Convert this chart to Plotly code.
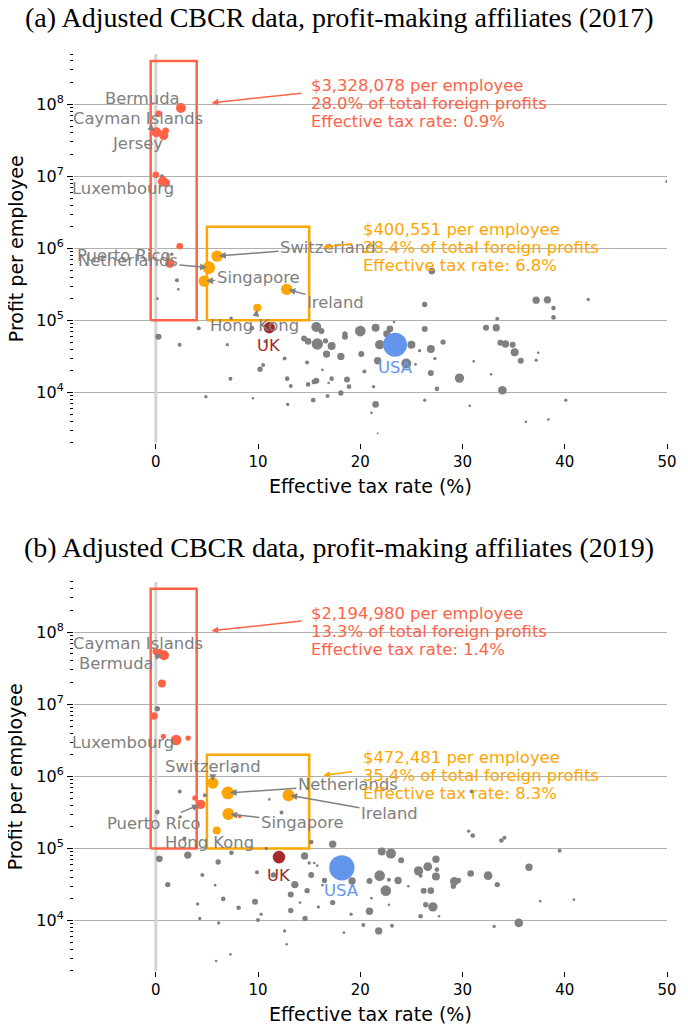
import math
import plotly.graph_objects as go

# ================= DATA =================
# ---- 2017 ----
gray17_x = [27.0, 26.3, 37.2, 38.3, 38.9, 38.9, 42.3, 33.4, 32.3, 33.3, 23.3, 26.3, 28.1, 26.9, 25.8,
            27.3, 25.4, 25.0, 24.5, 26.9, 29.7, 27.5, 26.3, 30.7, 31.1, 32.8, 33.9, 33.7, 34.2, 34.9,
            35.1, 35.7, 37.2, 37.4, 36.2, 38.4, 40.1, 21.5, 20.0, 22.9, 22.6, 21.9, 21.7, 20.1, 20.4,
            21.3, 21.5, 21.1, 21.7, 18.5, 18.5, 18.1, 18.7, 18.9, 18.1, 16.8, 15.4, 15.7, 16.2, 15.8,
            16.6, 17.2, 16.7, 14.9, 14.5, 14.8, 16.3, 17.2, 16.9, 15.7, 15.5, 14.9, 12.85, 13.2, 12.9,
            12.6, 10.5, 10.2, 9.5, 10.7, 9.4, 50.0, 1.56, 2.07, 2.2, 0.16, 4.9, 7.37, 4.2, 0.26,
            2.33, 7.0, 7.3, 4.9, 0.6]
gray17_y = [4.84e5, 1.66e5, 1.91e5, 1.93e5, 1.48e5, 1.10e5, 1.95e5, 1.05e5, 7.9e4, 7.9e4, 9.5e4, 7.6e4,
            5.0e4, 4.0e4, 3.8e4, 2.95e4, 2.45e4, 4.57e4, 2.51e4, 1.86e4, 1.58e4, 1.12e4, 7.8e3, 6.5e3,
            2.7e4, 1.78e4, 1.07e4, 4.9e4, 4.7e4, 4.57e4, 3.6e4, 2.75e4, 2.8e4, 3.55e4, 3.9e3, 4.2e3,
            7.8e3, 7.9e4, 7.1e4, 7.6e4, 6.5e4, 4.6e4, 2.75e4, 3.4e4, 1.95e4, 1.2e4, 6.8e3, 5.2e3,
            2.7e3, 5.9e4, 6.5e4, 3.16e4, 1.51e4, 1.2e4, 9.8e3, 8.9e3, 7.8e3, 8.1e4, 7.1e4, 4.7e4,
            5.2e4, 4.4e4, 3.4e4, 5.1e4, 5.6e4, 2.6e4, 2.05e4, 1.55e4, 1.35e4, 1.45e4, 1.41e4, 1.29e4,
            1.55e4, 1.23e4, 6.8e3, 2.95e4, 2.4e4, 2.1e4, 8.3e3, 5.1e4, 7.8e4, 8.5e6, 8.3e5, 3.6e5,
            2.7e5, 2.0e5, 5.2e5, 1.07e5, 7.8e4, 5.9e4, 4.6e4, 4.6e4, 1.55e4, 8.7e3, 1.0e7]
gray17_w = [10, 8, 11, 11, 7, 7, 5, 6, 9, 11, 4, 9, 8, 12, 5,
            5, 4, 12, 15, 9, 14, 7, 5, 4, 4, 4, 13, 9, 11, 9,
            12, 9, 5, 4, 4, 4, 5, 12, 16, 10, 11, 14, 11, 9, 6,
            5, 10, 4, 3, 9, 8, 11, 9, 7, 8, 6, 7, 15, 9, 17,
            8, 12, 11, 10, 9, 6, 4, 7, 4, 9, 8, 7, 7, 6, 5,
            6, 6, 8, 4, 5, 7, 5, 5, 6, 4, 4, 4, 5, 6, 9,
            6, 5, 6, 5, 6]

red17_names = ["Bermuda", "", "Cayman Islands", "Jersey", "", "", "Luxembourg", "", "", "Puerto Rico"]
red17_x = [2.46, 0.27, 0.06, 0.77, 0.96, 0.0, 0.7, 1.0, 2.34, 1.37]
red17_y = [8.9e7, 7.4e7, 4.1e7, 3.7e7, 4.3e7, 1.05e7, 8.5e6, 8.1e6, 1.07e6, 6.2e5]
red17_w = [15, 10, 15, 14, 10, 10, 15, 12, 10, 14]

orange17_names = ["Netherlands", "Switzerland", "Singapore", "Ireland", "Hong Kong"]
orange17_x = [5.19, 5.99, 4.74, 12.8, 9.93]
orange17_y = [5.4e5, 7.8e5, 3.5e5, 2.7e5, 1.5e5]
orange17_w = [19, 17, 17, 17, 12]

uk17 = (11.1, 7.9e4, 17)
usa17 = (23.4, 4.6e4, 36)

summary17_red = ["$3,328,078 per employee", "28.0% of total foreign profits", "Effective tax rate: 0.9%"]
summary17_orange = ["$400,551 per employee", "28.4% of total foreign profits", "Effective tax rate: 6.8%"]

# ---- 2019 ----
gray19_x = [0.15, 7.7, 2.34, 11.1, 4.8, 12.3, 0.15, 2.4, 2.8, 7.4, 10.8, 3.13, 0.35, 14.55, 15.0,
            15.5, 15.8, 15.2, 17.3, 6.1, 4.55, 9.9, 11.5, 13.6, 15.2, 16.5, 16.3, 14.8, 13.2, 1.17,
            5.8, 6.6, 9.7, 8.1, 10.3, 10.0, 14.1, 13.2, 14.6, 15.9, 17.3, 4.1, 4.3, 6.15, 12.6,
            12.8, 7.3, 5.9, 18.4, 19.2, 19.1, 20.3, 30.9, 30.6, 31.0, 33.8, 34.1, 39.5, 22.1, 23.0,
            24.0, 27.4, 27.5, 26.6, 25.7, 25.9, 27.4, 21.9, 22.8, 23.7, 20.9, 22.5, 21.1, 22.8, 20.9,
            24.7, 26.2, 26.9, 26.4, 27.1, 25.9, 27.7, 29.2, 29.6, 29.1, 30.8, 32.5, 33.4, 36.5, 37.6,
            40.9, 33.1, 35.5, 21.8, 23.1]
gray19_y = [8.7e6, 1.17e6, 6.2e5, 4.8e5, 5.5e5, 3.16e5, 3.2e5, 2.75e5, 1.38e5, 8.7e4, 1.0e5, 8.1e4,
            7.2e4, 7.9e4, 6.3e4, 6.3e4, 5.8e4, 1.23e5, 1.15e5, 6.5e4, 4.3e4, 4.7e4, 4.3e4, 3.16e4,
            4.3e4, 3.6e4, 3.1e4, 2.6e4, 2.3e4, 3.16e4, 3.1e4, 2.0e4, 1.82e4, 1.51e4, 1.23e4, 1.02e4,
            1.78e4, 1.38e4, 1.07e4, 1.55e4, 1.78e4, 1.7e4, 1.07e4, 9.3e3, 7.2e3, 4.7e3, 3.4e3, 2.75e3,
            6.8e3, 3.55e4, 1.23e4, 8.7e3, 6.2e5, 1.74e5, 1.51e5, 1.29e5, 1.41e5, 9.3e4, 9.1e4, 8.5e4,
            6.9e4, 7.1e4, 5.1e4, 5.6e4, 4.9e4, 4.2e4, 4.1e4, 4.2e4, 3.7e4, 3.6e4, 3.55e4, 2.6e4,
            2.05e4, 1.66e4, 1.35e4, 3.0e4, 2.6e4, 2.6e4, 1.66e4, 1.55e4, 1.15e4, 1.15e4, 3.5e4, 3.6e4,
            3.0e4, 4.5e4, 4.2e4, 3.16e4, 5.5e4, 1.86e4, 1.95e4, 8.3e3, 9.3e3, 7.2e3, 8.5e3]
gray19_w = [8, 5, 6, 4, 6, 6, 7, 5, 6, 7, 5, 11, 10, 11, 5,
            4, 4, 7, 11, 8, 6, 6, 8, 11, 9, 8, 4, 8, 9, 8,
            4, 7, 9, 7, 5, 6, 4, 8, 8, 5, 8, 5, 5, 5, 5,
            4, 4, 4, 4, 11, 5, 6, 6, 5, 7, 7, 6, 6, 12, 15,
            9, 11, 7, 13, 14, 6, 12, 16, 6, 11, 9, 16, 4, 4, 11,
            4, 9, 10, 8, 14, 7, 4, 13, 8, 8, 10, 13, 8, 11, 4,
            4, 5, 13, 11, 6]

red19_names = ["Cayman Islands", "Bermuda", "", "", "", "", "Luxembourg", "", "Puerto Rico", "", ""]
red19_x = [0.32, 0.8, 0.0, 0.6, -0.17, 0.74, 1.98, 3.16, 4.39, 3.83, 8.2]
red19_y = [5.1e7, 4.8e7, 5.4e7, 1.95e7, 6.9e6, 3.6e6, 3.2e6, 3.4e6, 4.1e5, 5.0e5, 2.8e5]
red19_w = [14, 15, 10, 12, 11, 8, 16, 8, 14, 8, 6]

orange19_names = ["Switzerland", "Netherlands", "Ireland", "Singapore", "Hong Kong"]
orange19_x = [5.58, 7.05, 12.98, 7.1, 5.96]
orange19_y = [8.1e5, 5.9e5, 5.5e5, 3.0e5, 1.78e5]
orange19_w = [17, 19, 18, 18, 12]

uk19 = (12.05, 7.6e4, 19)
usa19 = (18.2, 5.4e4, 38)

summary19_red = ["$2,194,980 per employee", "13.3% of total foreign profits", "Effective tax rate: 1.4%"]
summary19_orange = ["$472,481 per employee", "35.4% of total foreign profits", "Effective tax rate: 8.3%"]

titles = ["(a) Adjusted CBCR data, profit-making affiliates (2017)",
          "(b) Adjusted CBCR data, profit-making affiliates (2019)"]

# thresholds of the highlighted zones
red_zone = dict(x0=-0.5, x1=4.0, y0=1e5, y1=4e8)
orange_zone = dict(x0=5.0, x1=15.0, y0=1e5, y1=2e6)

# axis limits
x_range = [-8, 50]
y_limits = [2e3, 5e8]

# ================= STYLE =================
RED = "#FF6347"
ORANGE = "#FFA500"
UKC = "#A52A2A"
USAC = "#6495ED"
GRAY = "#808080"
FONT = "DejaVu Sans"
FS = 16.4
SIZEREF = 1.5

# label offsets (pixels, text centre relative to point)
offsets17 = {"Bermuda": (-38, -9), "Cayman Islands": (-18, -14), "Jersey": (-26, 8),
             "Luxembourg": (-40, 7), "Puerto Rico": (-46, -8), "Netherlands": (-81, -7),
             "Switzerland": (111, -9), "Singapore": (54, -4), "Ireland": (49, 13),
             "Hong Kong": (-3, 18)}
offsets19 = {"Cayman Islands": (-21, -10), "Bermuda": (-47, 8), "Luxembourg": (-53, 3),
             "Switzerland": (0, -17), "Netherlands": (120, -8), "Ireland": (101, 18),
             "Singapore": (74, 8), "Puerto Rico": (-47, 19), "Hong Kong": (-7, 12)}

fig = go.Figure()
annotations = []

panels = [
    dict(xa="x", ya="y", gray=(gray17_x, gray17_y, gray17_w),
         red=(red17_names, red17_x, red17_y, red17_w),
         orange=(orange17_names, orange17_x, orange17_y, orange17_w),
         uk=uk17, usa=usa17, sred=summary17_red, sorange=summary17_orange, off=offsets17,
         title=titles[0], title_y=1.0393),
    dict(xa="x2", ya="y2", gray=(gray19_x, gray19_y, gray19_w),
         red=(red19_names, red19_x, red19_y, red19_w),
         orange=(orange19_names, orange19_x, orange19_y, orange19_w),
         uk=uk19, usa=usa19, sred=summary19_red, sorange=summary19_orange, off=offsets19,
         title=titles[1], title_y=0.4613),
]


def mk(x, y, w, color, xa, ya):
    return go.Scatter(x=x, y=y, mode="markers", xaxis=xa, yaxis=ya, showlegend=False,
                      hoverinfo="skip",
                      marker=dict(size=w, sizemode="diameter", sizeref=SIZEREF, color=color,
                                  line=dict(width=0), opacity=1))


def line_trace(x, y, color, width, xa, ya):
    return go.Scatter(x=x, y=y, mode="lines", xaxis=xa, yaxis=ya, showlegend=False,
                      hoverinfo="skip", line=dict(color=color, width=width))


for p in panels:
    xa, ya = p["xa"], p["ya"]
    # vertical zero line
    fig.add_trace(line_trace([0, 0], y_limits, "#d3d3d3", 3, xa, ya))
    # zone boxes
    for zone, col in [(red_zone, RED), (orange_zone, ORANGE)]:
        fig.add_trace(line_trace([zone["x0"], zone["x1"], zone["x1"], zone["x0"], zone["x0"]],
                                 [zone["y0"], zone["y0"], zone["y1"], zone["y1"], zone["y0"]],
                                 col, 2.5, xa, ya))

    gx, gy, gw = p["gray"]
    fig.add_trace(mk(gx, gy, gw, GRAY, xa, ya))
    rn, rx, ry, rw = p["red"]
    fig.add_trace(mk(rx, ry, rw, RED, xa, ya))
    on, ox, oy, ow = p["orange"]
    fig.add_trace(mk(ox, oy, ow, ORANGE, xa, ya))
    fig.add_trace(mk([p["uk"][0]], [p["uk"][1]], [p["uk"][2]], UKC, xa, ya))
    fig.add_trace(mk([p["usa"][0]], [p["usa"][1]], [p["usa"][2]], USAC, xa, ya))

    # country labels with arrows
    for names, xs, ys in [(rn, rx, ry), (on, ox, oy)]:
        for n, xv, yv in zip(names, xs, ys):
            if not n:
                continue
            axp, ayp = p["off"][n]
            annotations.append(dict(x=xv, y=math.log10(yv), xref=xa, yref=ya, text=n,
                                    showarrow=True, ax=axp, ay=ayp, arrowcolor=GRAY,
                                    arrowhead=2, arrowsize=0.9, arrowwidth=1.5, standoff=2,
                                    font=dict(family=FONT, size=FS, color=GRAY)))
    annotations.append(dict(x=p["uk"][0], y=math.log10(p["uk"][1]), xref=xa, yref=ya, text="UK",
                            showarrow=False, yshift=-18, font=dict(family=FONT, size=FS, color=UKC)))
    annotations.append(dict(x=p["usa"][0], y=math.log10(p["usa"][1]), xref=xa, yref=ya, text="USA",
                            showarrow=False, yshift=-23, font=dict(family=FONT, size=FS, color=USAC)))

    # summary texts
    for lines, col, tx, ty in [(p["sred"], RED, 15.03, 8.266), (p["sorange"], ORANGE, 20.03, 6.268)]:
        for i, line in enumerate(lines):
            annotations.append(dict(x=tx, y=ty, xref=xa, yref=ya, text=line, showarrow=False,
                                    xanchor="left", yanchor="middle", yshift=-18.4 * i,
                                    font=dict(family=FONT, size=FS, color=col)))
    # summary arrows
    annotations.append(dict(x=5.45, y=8.02, xref=xa, yref=ya, text=" ", showarrow=True,
                            ax=93, ay=-10, arrowcolor=RED, arrowhead=2, arrowsize=0.9,
                            arrowwidth=1.5))
    annotations.append(dict(x=16.38, y=6.015, xref=xa, yref=ya, text=" ", showarrow=True,
                            ax=32, ay=-4, arrowcolor=ORANGE, arrowhead=2, arrowsize=0.9,
                            arrowwidth=1.5))

    # titles
    annotations.append(dict(x=0.447, y=p["title_y"], xref="paper", yref="paper", text=p["title"],
                            showarrow=False, xanchor="center", yanchor="middle",
                            font=dict(family="Liberation Serif", size=28, color="black")))
    # axis titles
    annotations.append(dict(x=0.5, y=-0.111, xref=xa + " domain", yref=ya + " domain",
                            text="Effective tax rate (%)", showarrow=False,
                            xanchor="center", yanchor="middle",
                            font=dict(family=FONT, size=19, color="black")))
    annotations.append(dict(x=-0.098, y=0.5, xref=xa + " domain", yref=ya + " domain",
                            text="Profit per employee", showarrow=False, textangle=-90,
                            xanchor="center", yanchor="middle",
                            font=dict(family=FONT, size=19, color="black")))

minor_vals = [m * 10 ** e for e in range(3, 9) for m in range(2, 10) if 2e3 <= m * 10 ** e <= 5e8]
major_vals = [1e4, 1e5, 1e6, 1e7, 1e8]
major_text = ["10<sup>4</sup>", "10<sup>5</sup>", "10<sup>6</sup>", "10<sup>7</sup>", "10<sup>8</sup>"]

xaxis_common = dict(range=x_range, tickvals=[0, 10, 20, 30, 40, 50], ticks="outside", ticklen=5,
                    tickwidth=1, tickcolor="black", showgrid=False, zeroline=False, showline=False,
                    tickfont=dict(family=FONT, size=15, color="black"))
yaxis_common = dict(type="log", range=[math.log10(y_limits[0]), math.log10(y_limits[1])],
                    tickvals=major_vals,
                    ticktext=major_text, ticks="outside", ticklen=6, tickwidth=1.3,
                    tickcolor="black", showgrid=True, gridcolor="#b0b0b0", gridwidth=1.3,
                    zeroline=False, showline=False,
                    tickfont=dict(family=FONT, size=16, color="black"),
                    minor=dict(tickvals=minor_vals, ticks="outside", ticklen=3, tickwidth=1,
                               tickcolor="black", showgrid=False))

# the page body has an 8px margin: the figure is shrunk by that much so the plot lands in place
fig.update_layout(
    width=680, height=1020,
    margin=dict(l=66, r=11, t=46, b=57),
    paper_bgcolor="white", plot_bgcolor="white",
    xaxis=dict(domain=[0, 1], anchor="y", **xaxis_common),
    yaxis=dict(domain=[0.5761, 1], anchor="x", **yaxis_common),
    xaxis2=dict(domain=[0, 1], anchor="y2", **xaxis_common),
    yaxis2=dict(domain=[0, 0.4244], anchor="x2", **yaxis_common),
    annotations=annotations,
    showlegend=False,
)

fig.write_html("out.html")
